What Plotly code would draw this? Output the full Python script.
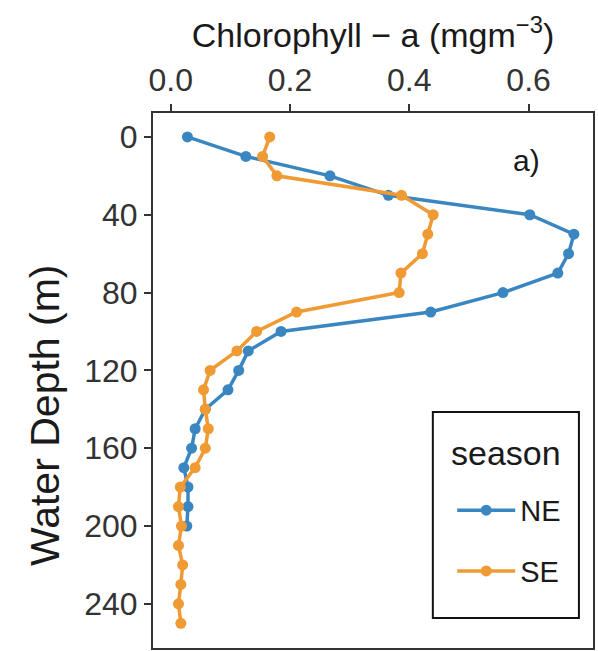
import plotly.graph_objects as go

# Depth (m) and chlorophyll-a (mg m^-3)
ne_depth = [0, 10, 20, 30, 40, 50, 60, 70, 80, 90, 100, 110, 120, 130, 140, 150, 160, 170, 180, 190, 200]
ne_chl = [0.028, 0.126, 0.267, 0.365, 0.602, 0.676, 0.667, 0.649, 0.557, 0.436, 0.185,
          0.130, 0.114, 0.096, 0.058, 0.041, 0.035, 0.022, 0.029, 0.029, 0.027]

se_depth = [0, 10, 20, 30, 40, 50, 60, 70, 80, 90, 100, 110, 120, 130, 140, 150, 160, 170,
            180, 190, 200, 210, 220, 230, 240, 250]
se_chl = [0.166, 0.154, 0.178, 0.387, 0.440, 0.431, 0.422, 0.386, 0.383, 0.211, 0.144,
          0.111, 0.066, 0.055, 0.058, 0.063, 0.058, 0.041, 0.016, 0.013, 0.018, 0.013,
          0.020, 0.017, 0.013, 0.017]

x_ticks = [0.0, 0.2, 0.4, 0.6]
y_ticks = [0, 40, 80, 120, 160, 200, 240]

BLUE = "#3a86c1"
ORANGE = "#ef9a33"
FONT = "Liberation Sans, Arial, sans-serif"
AX = "#333333"
TXT = "#1a1a1a"

fig = go.Figure()
fig.add_trace(go.Scatter(x=ne_chl, y=ne_depth, mode="lines+markers", name="NE",
                         line=dict(color=BLUE, width=3.5), marker=dict(color=BLUE, size=11),
                         legendgroup="NE"))
fig.add_trace(go.Scatter(x=se_chl, y=se_depth, mode="lines+markers", name="SE",
                         line=dict(color=ORANGE, width=3.5), marker=dict(color=ORANGE, size=11),
                         legendgroup="SE"))

fig.update_layout(
    width=598, height=651,
    margin=dict(l=153, r=5, t=113, b=3, autoexpand=False),
    paper_bgcolor="white", plot_bgcolor="white",
    font=dict(family=FONT, color=AX),
    showlegend=True,
    legend=dict(
        font=dict(size=29, color=TXT),
        x=0.68, y=0.305, xanchor="left", yanchor="top",
        borderwidth=0, bgcolor="rgba(0,0,0,0)",
        itemwidth=58, tracegroupgap=20,
    ),
    shapes=[dict(type="rect", xref="paper", yref="paper", x0=0.636, x1=0.968, y0=0.056, y1=0.441,
                 line=dict(color="#111", width=2), fillcolor="rgba(0,0,0,0)", layer="above")],
    annotations=[
        dict(text="a)", xref="paper", yref="paper", x=0.884, y=0.945,
             showarrow=False, font=dict(size=30, color=TXT)),
        dict(text="season", xref="paper", yref="paper", x=0.803, y=(648 - 453) / 535,
             xanchor="center", yanchor="middle", showarrow=False, font=dict(size=34, color=TXT)),
        dict(text="Water Depth (m)", xref="paper", yref="paper",
             x=(45 - 153) / 440, y=(648 - 416) / 535, textangle=-90,
             xanchor="center", yanchor="middle", showarrow=False, font=dict(size=41, color=TXT)),
    ],
)

fig.update_xaxes(
    side="top", range=[-0.0297, 0.708], tickvals=x_ticks, ticktext=[f"{v:.1f}" for v in x_ticks],
    ticks="outside", ticklen=7, tickwidth=1.5, tickcolor=AX,
    tickfont=dict(size=32, color=AX),
    showline=True, linecolor=AX, linewidth=2, mirror=True, showgrid=False, zeroline=False,
    title=dict(text="Chlorophyll − a (mgm<sup>−3</sup>)", font=dict(size=34, color=TXT), standoff=4),
)
fig.update_yaxes(
    range=[262.7, -12.3], tickvals=y_ticks,
    ticks="outside", ticklen=7, tickwidth=1.5, tickcolor=AX,
    tickfont=dict(size=32, color=AX),
    showline=True, linecolor=AX, linewidth=2, mirror=True, showgrid=False, zeroline=False,
)

fig.write_html("out.html")
